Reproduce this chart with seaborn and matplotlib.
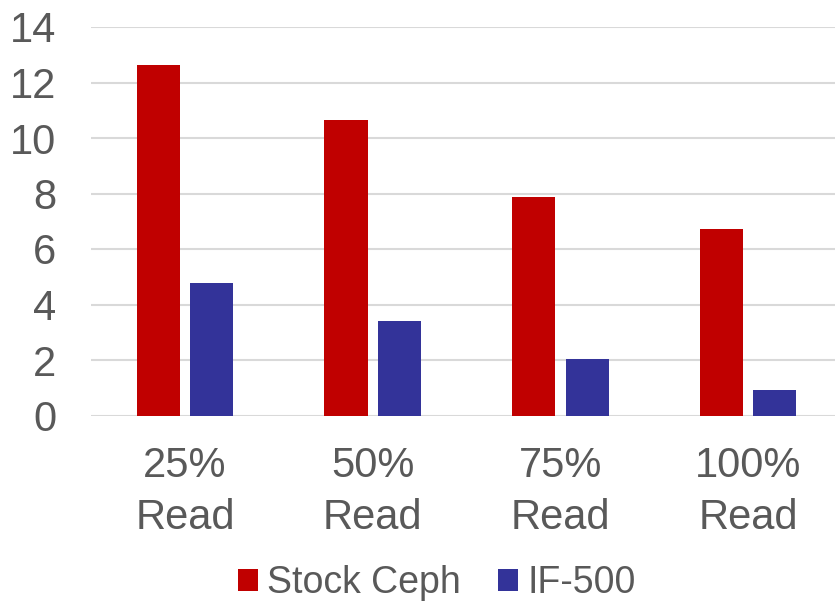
import matplotlib
matplotlib.use("Agg")
import matplotlib.pyplot as plt
import seaborn as sns
import pandas as pd
from matplotlib.patches import Patch

categories = ["25%\nRead", "50%\nRead", "75%\nRead", "100%\nRead"]
series_names = ["Stock Ceph", "IF-500"]
stock_ceph = [12.63, 10.65, 7.86, 6.73]
if_500 = [4.76, 3.41, 2.05, 0.92]
colors = ["#C00000", "#333399"]
yticks = [0, 2, 4, 6, 8, 10, 12, 14]

df = pd.DataFrame({
    "cat": categories * 2,
    "series": [series_names[0]] * 4 + [series_names[1]] * 4,
    "val": stock_ceph + if_500,
})

sns.set_theme(style="white")
plt.rcParams["font.family"] = ["Liberation Sans", "DejaVu Sans"]

fig = plt.figure(figsize=(8.35, 6.02), dpi=100)
ax = fig.add_axes([91.2 / 835, (602 - 415.5) / 602, (842 - 91.2) / 835, (415.5 - 27) / 602])

sns.barplot(data=df, x="cat", y="val", hue="series", palette=colors,
            width=0.57, gap=0.196, ax=ax, legend=False, saturation=1,
            edgecolor="none", linewidth=0)

ax.set_xlim(-0.5, 3.5)
ax.set_ylim(0, 14)
ax.set_yticks(yticks)
ax.set_yticklabels([str(t) for t in yticks])
ax.grid(axis="y", color="#D9D9D9", linewidth=1.5)
ax.set_axisbelow(True)
for s in ax.spines.values():
    s.set_visible(False)
ax.set_xlabel("")
ax.set_ylabel("")
ax.tick_params(axis="y", length=0, pad=25, labelsize=30, labelcolor="#595959")
ax.tick_params(axis="x", length=0, pad=22, labelsize=30, labelcolor="#595959")
for lbl in ax.get_xticklabels():
    lbl.set_linespacing(1.38)

handles = [Patch(facecolor=c, edgecolor="none") for c in colors]
fig.legend(handles, series_names, loc="center", bbox_to_anchor=(437 / 835, 19 / 602),
           ncol=2, frameon=False, fontsize=27, labelcolor="#595959",
           handlelength=0.52, handleheight=0.52, handletextpad=0.25,
           columnspacing=1.0, borderpad=0)

fig.savefig("out.png", dpi=100)
